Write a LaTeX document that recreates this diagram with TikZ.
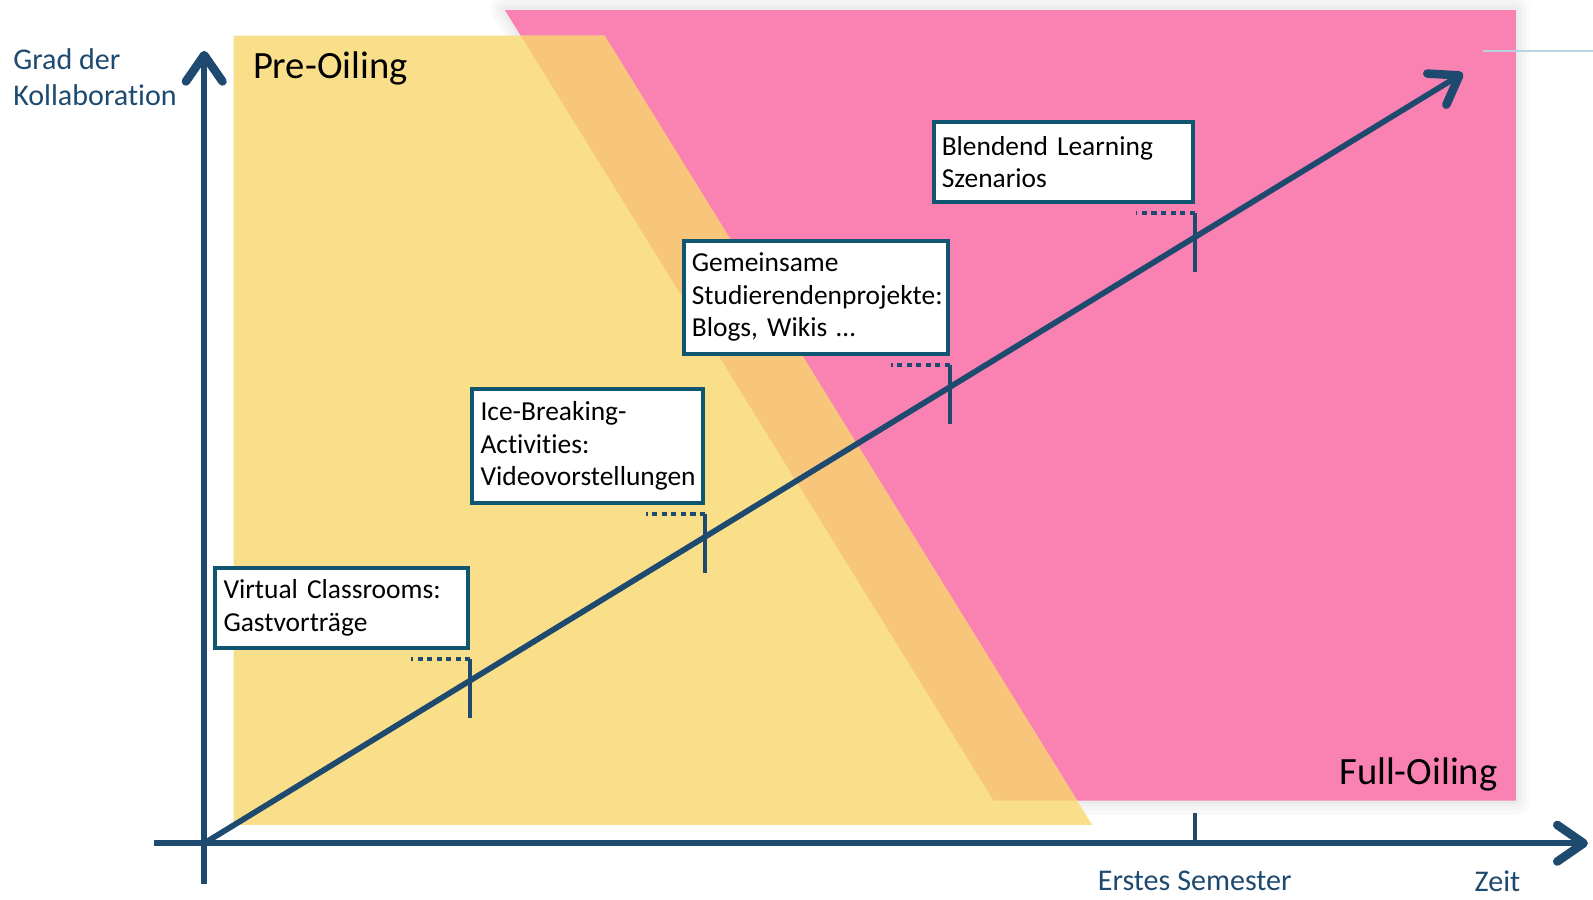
\documentclass[tikz,border=0pt]{standalone}
\usepackage{fontspec}
\setmainfont{Carlito}[Ligatures=NoCommon]
\usetikzlibrary{arrows.meta,positioning}

\definecolor{axisblue}{RGB}{30,74,112}
\definecolor{boxteal}{RGB}{16,86,112}
\definecolor{preyellow}{RGB}{250,223,138}
\definecolor{overlaporange}{RGB}{248,198,122}
\definecolor{fullpink}{RGB}{249,130,178}
\definecolor{thincyan}{RGB}{184,212,224}

\tikzset{
	infobox/.style={draw=boxteal, line width=2pt, fill=white, anchor=north west, align=left,
		inner xsep=4pt, inner ysep=2pt, font=\fontsize{13.5}{16}\selectfont},
	axis/.style={draw=axisblue, line width=2.8pt,
		-{Straight Barb[length=13pt,width=18pt,line width=4.2pt,round]}},
	tickmark/.style={draw=axisblue, line width=2pt},
	dotline/.style={draw=axisblue, line width=2pt, dash pattern=on 2.5pt off 2.2pt},
	axislabel/.style={text=axisblue, font=\fontsize{14.8}{18}\selectfont},
	phaselabel/.style={font=\fontsize{19}{22}\selectfont}
}

\begin{document}
\begin{tikzpicture}[x=0.5pt,y=-0.5pt]
	\useasboundingbox (0,0) rectangle (1568,885);
	% phases
	\foreach \w in {14,10,6,3}
		\draw[black, opacity=0.018, line width=\w pt, line join=round]
			(497,10) -- (1492,10) -- (1492,788) -- (978,788) -- cycle;
	\fill[fullpink] (497,10) -- (1492,10) -- (1492,788) -- (978,788) -- cycle;
	\fill[preyellow] (230,35) -- (595,35) -- (1075,812) -- (230,812) -- cycle;
	\fill[overlaporange] (512.5,35) -- (595,35) -- (1060.2,788) -- (978,788) -- cycle;
	\draw[thincyan, line width=0.8pt] (1460,50) -- (1568,50);

	\node[phaselabel, anchor=west] (pre) at (242,67) {Pre-Oiling};
	\node[phaselabel, anchor=east] (full) at (1481,762) {Full-Oiling};

	% axes
	\coordinate (origin) at (201,830);
	\coordinate (ytop) at (201,50);
	\coordinate (xend) at (1563,830);
	\coordinate (diagend) at (1440,72);
	\draw[axis] (201,870) -- (ytop);
	\draw[axis] (152,830) -- (xend);
	\draw[axis] (origin) -- (diagend);

	\node[axislabel, anchor=west, align=left] (grad) at (6,76) {Grad der\\Kollaboration};
	\node[axislabel] (semester) at (1176,867) {Erstes Semester};
	\node[axislabel] (zeit) at (1474,867) {Zeit};

	% boxes
	\node[infobox, text width=116.5pt, minimum height=39.5pt] (virtual) at (210,557)
		{Virtual Classrooms:\\Gastvorträge};
	\node[infobox, text width=105.5pt, minimum height=56pt] (icebreak) at (463,381)
		{Ice-Breaking-\\Activities:\\Videovorstellungen};
	\node[infobox, text width=122pt, minimum height=55.5pt] (projekte) at (671,235)
		{Gemeinsame\\Studierendenprojekte:\\Blogs, Wikis \dots};
	\node[infobox, text width=119.5pt, minimum height=39.5pt] (blended) at (917,118)
		{Blendend Learning\\Szenarios};

	% markers
	\foreach \b in {virtual,icebreak,projekte,blended}{
		\draw[dotline] ([yshift=-4.5pt]\b.south east) -- ++(-29pt,0);
		\draw[tickmark] ([yshift=-4.5pt]\b.south east) -- ++(0,-29pt);
	}
	\draw[tickmark] (blended.south east |- origin) -- ++(0,15pt);
\end{tikzpicture}
\end{document}
